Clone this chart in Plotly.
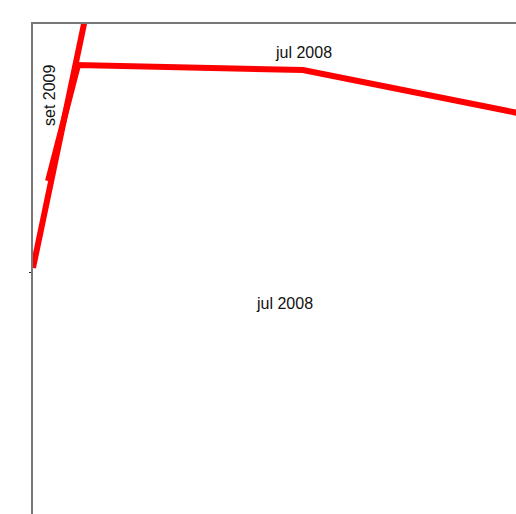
import plotly.graph_objects as go

# Path values (chart units; x to the right, y upward)
line1_x = [0, 56]
line1_y = [246, 514]
line2_x = [15, 45, 270, 483, 495]
line2_y = [333, 449, 444, 401, 399]

# Labels
label_text = ["jul 2008", "set 2009", "jul 2008"]
label_x = [270, 16, 251.5]
label_y = [462, 418, 211]
label_angle = [0, -90, 0]

y_tick_vals = [242]

fig = go.Figure()
for xs, ys in [(line1_x, line1_y), (line2_x, line2_y)]:
    fig.add_trace(go.Scatter(x=xs, y=ys, mode="lines",
                             line=dict(color="#ff0000", width=6),
                             showlegend=False, hoverinfo="skip"))

for t, x, y, a in zip(label_text, label_x, label_y, label_angle):
    fig.add_annotation(x=x, y=y, text=t, textangle=a, showarrow=False,
                       font=dict(family="Liberation Sans, Arial", size=16, color="#111"))

fig.update_layout(
    width=516, height=514,
    margin=dict(l=33, r=0, t=24, b=0),
    paper_bgcolor="white", plot_bgcolor="white",
    xaxis=dict(range=[0, 483], side="top", showline=True, linecolor="#777",
               linewidth=1.5, showgrid=False, zeroline=False, showticklabels=False,
               ticks=""),
    yaxis=dict(range=[0, 490], showline=True, linecolor="#777", linewidth=1.5,
               showgrid=False, zeroline=False, showticklabels=False,
               ticks="outside", ticklen=2, tickcolor="#222", tickwidth=1,
               tickvals=y_tick_vals),
)

fig.write_html(
    "out.html",
    config={"displayModeBar": False},
    post_script="document.body.style.margin='0';document.body.style.overflow='hidden';",
)
